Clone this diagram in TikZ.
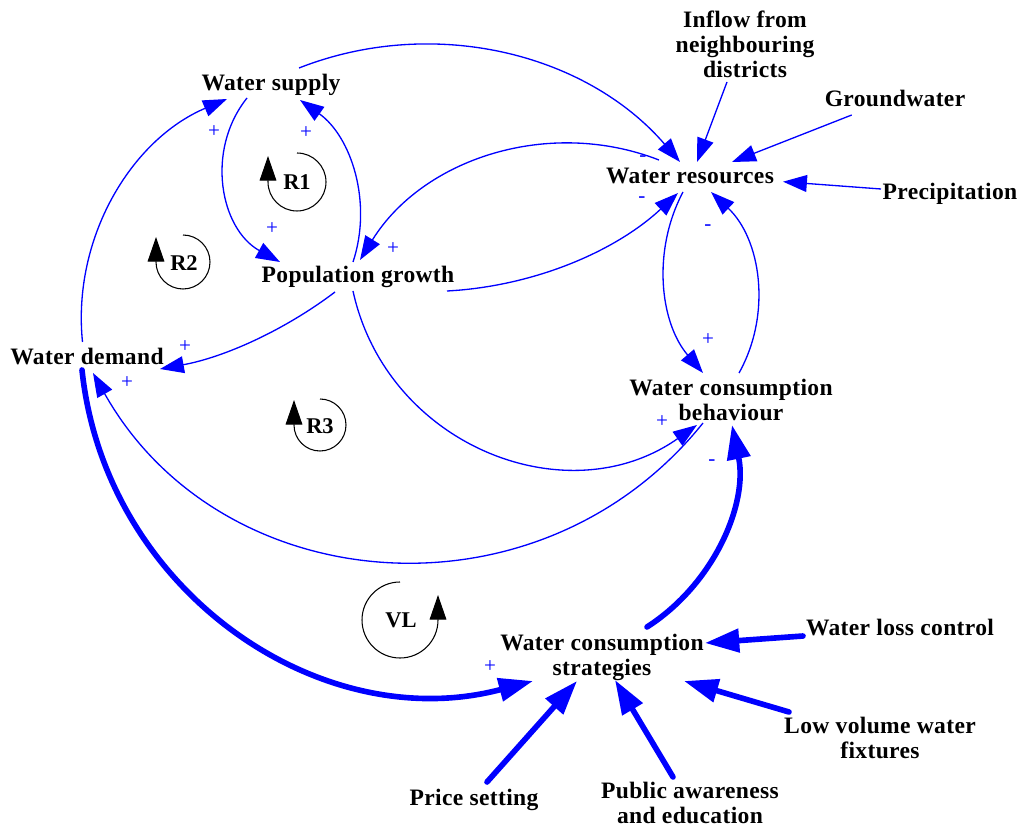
\documentclass[tikz,border=0pt]{standalone}
\usepackage{fontspec}
\setmainfont{Liberation Serif}
\newfontfamily\varfont[LetterSpace=1.5]{Liberation Serif}
\usetikzlibrary{arrows.meta,calc}
\definecolor{vblue}{RGB}{0,0,255}
\begin{document}
\begin{tikzpicture}[x=0.02cm,y=-0.02cm,
  var/.style={font=\varfont\fontsize{13.4pt}{14.2pt}\selectfont\bfseries, inner sep=0pt, align=center},
  pol/.style={font=\fontsize{12pt}{12pt}\selectfont, text=vblue, inner sep=0pt},
  linkthin/.style={draw=vblue, line width=0.75pt, -{Triangle[length=13.6pt,width=9.6pt]}},
  linkthick/.style={draw=vblue, line width=3.2pt, line cap=round, -{Triangle[length=19.5pt,width=13pt]}},
  loopline/.style={draw=black, line width=0.6pt, -{Triangle[length=14pt,width=9.5pt]}},
  looplab/.style={font=\fontsize{12.8pt}{12.8pt}\selectfont\bfseries, inner sep=0pt}
]
\useasboundingbox (0,0) rectangle (1021,827);

% variables
\node[var,anchor=base] (ws) at (271,91) {Water supply};
\node[var,anchor=base] (pg) at (358,283) {Population growth};
\node[var,anchor=base] (wd) at (87,365) {Water demand};
\node[var,anchor=base] (wr) at (690,184) {Water resources};
\node[var] (inf) at (745,44) {Inflow from\\neighbouring\\districts};
\node[var,anchor=base] (gw) at (895,107) {Groundwater};
\node[var,anchor=base] (pr) at (950,200) {Precipitation};
\node[var] (wcb) at (731,400) {Water consumption\\behaviour};
\node[var] (wcs) at (602,657) {Water consumption\\strategies};
\node[var,anchor=base] (wlc) at (900,635) {Water loss control};
\node[var] (lvf) at (880,738) {Low volume water\\fixtures};
\node[var,anchor=base] (ps) at (474,805) {Price setting};
\node[var] (pae) at (690,803) {Public awareness\\and education};

% thin curved links
\draw[linkthin] ($(wd.base)+(-4.5,-23)$) .. controls ($(wd.base)+(-15,-126.2)$) and ($(ws.base)+(-140.4,49)$) .. ($(ws.base)+(-44,8)$);
\draw[linkthin] ($(ws.base)+(-24,7)$) .. controls ($(ws.base)+(-66.1,60)$) and ($(pg.base)+(-137.3,-53.8)$) .. ($(pg.base)+(-78,-21)$);
\draw[linkthin] ($(pg.base)+(-5,-21)$) .. controls ($(pg.base)+(14.8,-80.7)$) and ($(ws.base)+(80.2,45.5)$) .. ($(ws.base)+(29,9)$);
\draw[linkthin] ($(ws.base)+(28,-23)$) .. controls ($(ws.base)+(162.1,-75.7)$) and ($(wr.base)+(-104.1,-131.1)$) .. ($(wr.base)+(-10,-22)$);
\draw[linkthin] ($(wr.base)+(-31,-24)$) .. controls ($(wr.base)+(-141.7,-67)$) and ($(pg.base)+(64.5,-124)$) .. ($(pg.base)+(2,-23)$);
\draw[linkthin] ($(pg.base)+(89,8)$) .. controls ($(pg.base)+(175.1,3.4)$) and ($(wr.base)+(-75.1,67.8)$) .. ($(wr.base)+(-12,9)$);
\draw[linkthin] ($(wr.base)+(-7,8)$) .. controls ($(wr.base)+(-38.1,66.7)$) and ($(wcb)+(-71.1,-77.5)$) .. ($(wcb)+(-28,-27)$);
\draw[linkthin] ($(wcb)+(8,-27)$) .. controls ($(wcb)+(41.3,-86.6)$) and ($(wr.base)+(70.7,54.8)$) .. ($(wr.base)+(21,8)$);
\draw[linkthin] ($(pg.base)+(-5,8)$) .. controls ($(pg.base)+(28.8,162.9)$) and ($(wcb)+(-163.6,116.3)$) .. ($(wcb)+(-34,25)$);
\draw[linkthin] ($(wcb)+(-28,23)$) .. controls ($(wcb)+(-191.6,227)$) and ($(wd.base)+(134.4,236)$) .. ($(wd.base)+(6,8)$);
\draw[linkthin] ($(pg.base)+(-23,9)$) .. controls ($(pg.base)+(-74.5,48)$) and ($(wd.base)+(136.5,-7.6)$) .. ($(wd.base)+(73,4)$);

% thin straight links
\draw[linkthin] ($(inf)+(-18,38)$) -- ($(wr.base)+(7,-22)$);
\draw[linkthin] ($(gw.base)+(-43.3,8)$) -- ($(wr.base)+(42,-22)$);
\draw[linkthin] ($(pr.base)+(-69,-11)$) -- ($(wr.base)+(93,-2.3)$);

% thick links
\draw[linkthick] ($(wd.base)+(-5,5)$) .. controls ($(wd.base)+(18.2,225)$) and ($(wcs)+(-282.8,80.6)$) .. ($(wcs)+(-69,24)$);
\draw[linkthick] ($(wcs)+(45,-30)$) .. controls ($(wcs)+(112.3,-73.3)$) and ($(wcb)+(17.1,103.5)$) .. ($(wcb)+(1,25)$);
\draw[linkthick] ($(wlc.base)+(-97,1)$) -- ($(wcs)+(103,-14)$);
\draw[linkthick] ($(lvf)+(-91,-26)$) -- ($(wcs)+(82,24)$);
\draw[linkthick] ($(pae)+(-17,-26)$) -- ($(wcs)+(13,23)$);
\draw[linkthick] ($(ps.base)+(13,-23)$) -- ($(wcs)+(-25,24)$);

% polarities
\node[pol] (s1) at (214,132) {+};
\node[pol] (s2) at (306,133) {+};
\node[pol] (s3) at (272,229) {+};
\node[pol] (s4) at (393,249) {+};
\node[pol] (s5) at (185,347) {+};
\node[pol] (s6) at (127,383) {+};
\node[pol] (s7) at (662,422) {+};
\node[pol] (s8) at (708,340) {+};
\node[pol] (s9) at (490,667) {+};
\node[pol] (m1) at (643,159) {-};
\node[pol] (m2) at (642,200) {-};
\node[pol] (m3) at (708,228) {-};
\node[pol] (m4) at (712,463) {-};

% loop symbols
\draw[loopline] (297,153) arc[start angle=-90,end angle=180,radius=29] -- ++(0,-26);
\node[looplab] (r1) at (297,182) {R1};
\draw[loopline] (183,235) arc[start angle=-90,end angle=180,radius=27] -- ++(0,-25);
\node[looplab] (r2) at (184,263) {R2};
\draw[loopline] (320,399) arc[start angle=-90,end angle=180,radius=26] -- ++(0,-25);
\node[looplab] (r3) at (320,426) {R3};
\draw[loopline] (400,582) arc[start angle=-90,end angle=-360,radius=38] -- ++(0,-25);
\node[looplab] (vl) at (401,620) {VL};
\end{tikzpicture}
\end{document}
